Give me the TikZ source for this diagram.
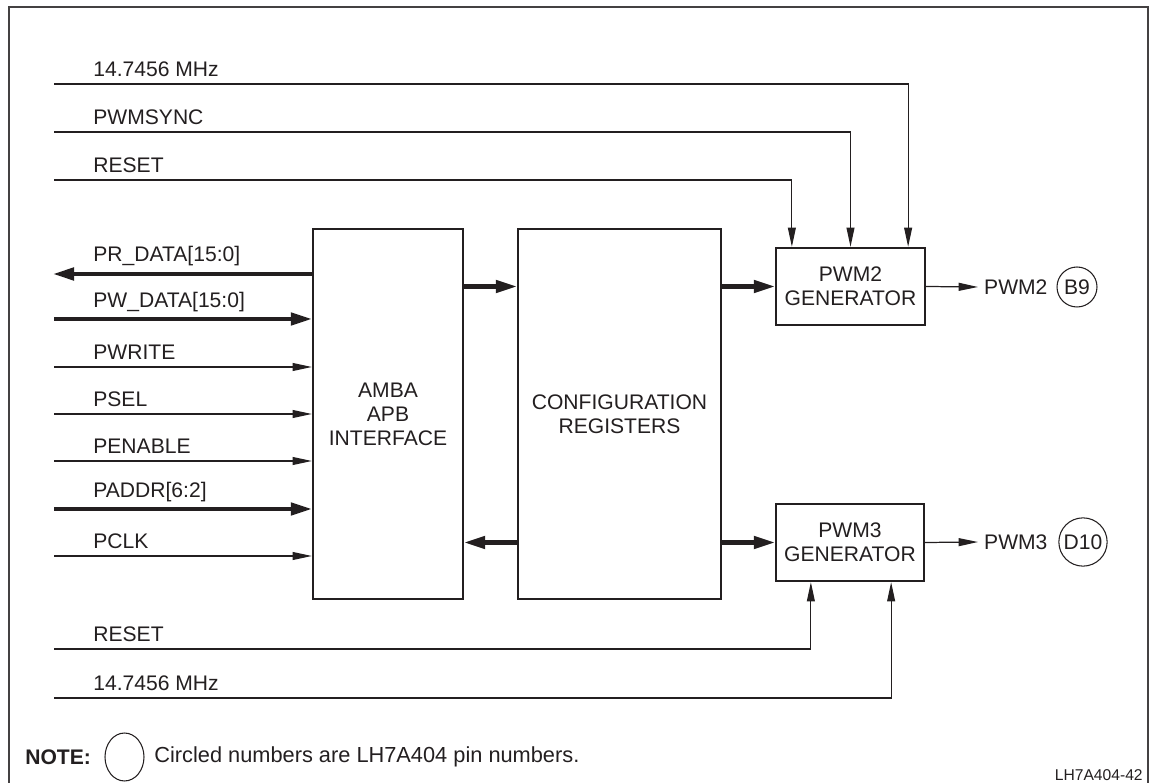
\documentclass[tikz,border=0pt]{standalone}
\usepackage{fontspec}
\setmainfont{Liberation Sans}
\usetikzlibrary{arrows.meta,shapes.geometric}
\definecolor{ink}{HTML}{231F20}
\begin{document}
\begin{tikzpicture}[x=0.02cm,y=-0.02cm,
  every node/.style={font=\fontsize{12}{13.6}\selectfont,text=ink},
  block/.style={draw=ink,line width=1.3pt,align=center,inner sep=0pt},
  sig/.style={draw=ink,line width=0.7pt},
  sigarr/.style={sig,-{Triangle[length=11pt,width=4.5pt]}},
  bus/.style={draw=ink,line width=2.3pt},
  busarr/.style={bus,-{Triangle[length=12pt,width=7pt]}},
  lbl/.style={anchor=base west,inner sep=0pt},
  pin/.style={circle,draw=ink,line width=0.6pt,inner sep=1.5pt,minimum size=0.8cm}]
\useasboundingbox (0,0) rectangle (1150,783);
\draw[ink!85,line width=0.6pt] (9,783) -- (9,7) -- (1148,7) -- (1148,783);

\node[block,minimum width=3cm,minimum height=7.4cm] (amba) at (388,414) {AMBA\\APB\\INTERFACE};
\node[block,minimum width=4.06cm,minimum height=7.4cm] (cfg) at (619.5,414) {CONFIGURATION\\REGISTERS};
\node[block,minimum width=2.98cm,minimum height=1.54cm] (pwm2) at (850.5,286.5) {PWM2\\GENERATOR};
\node[block,minimum width=2.96cm,minimum height=1.54cm] (pwm3) at (850,542.5) {PWM3\\GENERATOR};

\coordinate (mhzA) at (54,84);
\coordinate (syncA) at (54,132);
\coordinate (rstA) at (54,180);
\node[lbl] (mhzAl) at (93,77) {14.7456 MHz};
\node[lbl] (syncAl) at (93,125) {PWMSYNC};
\node[lbl] (rstAl) at (93,173) {RESET};
\draw[sigarr] (mhzA) -| ([xshift=-0.36cm]pwm2.north east);
\draw[sigarr] (syncA) -| (pwm2.north);
\draw[sigarr] (rstA) -| ([xshift=0.34cm]pwm2.north west);

\coordinate (prData) at (53,274);
\coordinate (pwData) at (54,319);
\coordinate (pWrite) at (54,367);
\coordinate (pSel) at (54,414);
\coordinate (pEnable) at (54,461);
\coordinate (pAddr) at (54,509);
\coordinate (pClk) at (54,556);
\node[lbl] (prDatal) at (93,262) {PR\_DATA[15:0]};
\node[lbl] (pwDatal) at (93,308) {PW\_DATA[15:0]};
\node[lbl] (pWritel) at (93,360) {PWRITE};
\node[lbl] (pSell) at (93,407) {PSEL};
\node[lbl] (pEnablel) at (93,454) {PENABLE};
\node[lbl] (pAddrl) at (93,498) {PADDR[6:2]};
\node[lbl] (pClkl) at (93,549) {PCLK};
\draw[busarr] (amba.west |- prData) -- (prData);
\draw[busarr] (pwData) -- (pwData -| amba.west);
\draw[sigarr] (pWrite) -- (pWrite -| amba.west);
\draw[sigarr] (pSel) -- (pSel -| amba.west);
\draw[sigarr] (pEnable) -- (pEnable -| amba.west);
\draw[busarr] (pAddr) -- (pAddr -| amba.west);
\draw[sigarr] (pClk) -- (pClk -| amba.west);

\draw[busarr] (amba.east |- pwm2) -- (cfg.west |- pwm2);
\draw[busarr] (cfg.west |- pwm3) -- (amba.east |- pwm3);
\draw[busarr] (cfg.east |- pwm2) -- (pwm2.west);
\draw[busarr] (cfg.east |- pwm3) -- (pwm3.west);

\node[anchor=west] (pwm2o) at (978,287) {PWM2};
\node[pin] (b9) at (1077,287) {B9};
\draw[sigarr] (pwm2.east) -- (pwm2o.west);
\node[anchor=west] (pwm3o) at (978,542) {PWM3};
\node[pin] (d10) at (1083,542) {D10};
\draw[sigarr] (pwm3.east) -- (pwm3o.west);

\coordinate (rstB) at (54,649);
\coordinate (mhzB) at (54,698);
\node[lbl] (rstBl) at (93,642) {RESET};
\node[lbl] (mhzBl) at (93,691) {14.7456 MHz};
\draw[sigarr] (rstB) -| ([xshift=0.72cm]pwm3.south west);
\draw[sigarr] (mhzB) -| ([xshift=-0.68cm]pwm3.south east);

\node[anchor=west,inner sep=0pt,font=\bfseries\fontsize{12}{13.6}\selectfont] (note) at (25,757) {NOTE:};
\node[ellipse,draw=ink,line width=0.6pt,minimum width=0.78cm,minimum height=0.96cm,inner sep=0pt] (noteRing) at (124.5,757) {};
\node[anchor=west,inner sep=0pt,font=\fontsize{12.4}{14}\selectfont] (noteTxt) at (154,757) {Circled numbers are LH7A404 pin numbers.};
\node[anchor=base east,inner sep=0pt,font=\fontsize{8.9}{10}\selectfont] (figId) at (1143,780) {LH7A404-42};
\end{tikzpicture}
\end{document}
